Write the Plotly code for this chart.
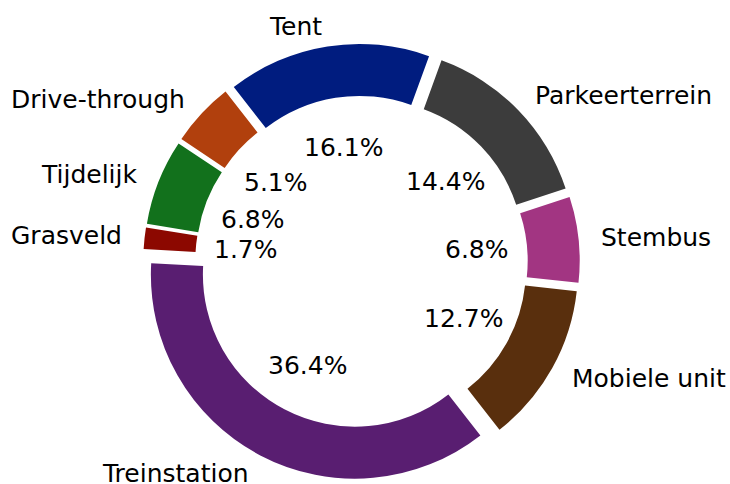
import math
import plotly.graph_objects as go

# ---- data ----
labels = ["Tent", "Drive-through", "Tijdelijk", "Grasveld", "Treinstation",
          "Mobiele unit", "Stembus", "Parkeerterrein"]
counts = [19, 6, 8, 2, 43, 15, 8, 17]
colors = ["#001c7f", "#b1400d", "#12711c", "#8c0800", "#591e71",
          "#592f0d", "#a23582", "#3c3c3c"]

# ---- layout constants ----
W, H = 730, 484
CX, CY = 361.5, 262.0      # pie centre in px (from top-left)
R = 204.0                  # outer radius in px
PULL = 0.07                # explode fraction
HOLE = 0.745
START = 20.0               # clockwise-from-top angle where the first slice begins (ccw)
LABEL_DIST = 1.1
PCT_DIST = 0.5
FONT = dict(family="DejaVu Sans", size=25, color="black")

total = sum(counts)
k = 360.0 / total
half = R * (1 + PULL)

fig = go.Figure(go.Pie(
    labels=labels,
    values=counts,
    sort=False,
    direction="counterclockwise",
    rotation=START - counts[0] * k,
    hole=HOLE,
    pull=[PULL] * len(counts),
    marker=dict(colors=colors, line=dict(width=0)),
    textinfo="none",
    hoverinfo="label+percent",
    showlegend=False,
    domain=dict(x=[(CX - half) / W, (CX + half) / W],
                y=[1 - (CY + half) / H, 1 - (CY - half) / H]),
))

annotations = []
cum = 0.0
for lab, v in zip(labels, counts):
    mid = math.radians(START - (cum + v / 2.0) * k)
    s, c = math.sin(mid), math.cos(mid)
    # label outside
    dist = PULL * R + LABEL_DIST * R
    lx, ly = CX + dist * s, CY - dist * c
    annotations.append(dict(
        x=lx / W, y=1 - ly / H, xref="paper", yref="paper",
        text=lab, showarrow=False, font=FONT,
        xanchor="left" if s > 0 else "right", yanchor="middle"))
    # percentage inside the hole
    dist = PULL * R + PCT_DIST * R
    px, py = CX + dist * s, CY - dist * c
    annotations.append(dict(
        x=px / W, y=1 - py / H, xref="paper", yref="paper",
        text=f"{100.0 * v / total:.1f}%", showarrow=False, font=FONT,
        xanchor="center", yanchor="middle"))
    cum += v

fig.update_layout(
    width=W, height=H,
    margin=dict(l=0, r=0, t=0, b=0),
    paper_bgcolor="white", plot_bgcolor="white",
    annotations=annotations,
)

fig.write_html(
    "out.html",
    config={"displayModeBar": False},
    post_script="document.body.style.margin='0';document.body.style.overflow='hidden';",
)
